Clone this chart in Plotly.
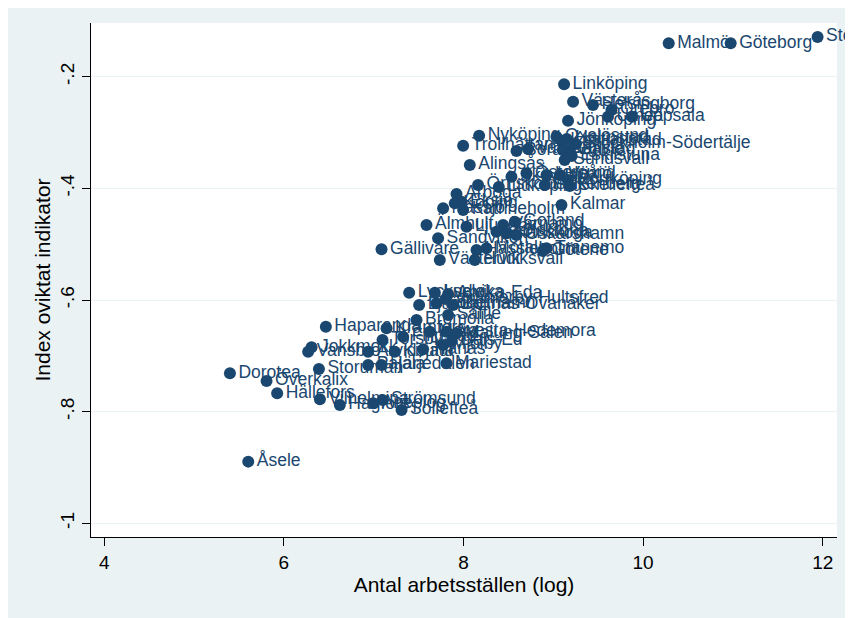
import plotly.graph_objects as go

# Data
names = [
    "Stockholm", "Göteborg", "Malmö", "Linköping", "Västerås", "Helsingborg",
    "Örebro", "Umeå", "Uppsala", "Jönköping", "Nyköping", "Trollhättan",
    "Oxelösund", "Borås", "Varberg", "Kristianstad", "Stockholm-Södertälje",
    "Gävle", "Karlstad", "Eskilstuna", "Halmstad", "Sundsvall", "Alingsås",
    "Skövde", "Östersund", "Luleå", "Växjö", "Norrköping", "Örnsköldsvik",
    "Lidköping", "Falkenberg", "Skellefteå", "Arboga", "Köping", "Eksjö",
    "Nässjö", "Katrineholm", "Kalmar", "Älmhult", "Ljungby", "Värnamo",
    "Gotland", "Karlskrona", "Karlskoga", "Oskarshamn", "Sandviken",
    "Gällivare", "Hässleholm", "Motala", "Tranemo", "Götene", "Västervik",
    "Hudiksvall", "Lycksele", "Ludvika", "Arvika-Eda", "Ljusdal", "Söderhamn",
    "Bollnäs-Ovanåker", "Vimmerby-Hultsfred", "Säffle", "Bromölla",
    "Haparanda", "Kramfors", "Filipstad", "Torsby", "Avesta-Hedemora", "Mora",
    "Malung-Sälen", "Mjölby", "Dals-Ed", "Tranås", "Kiruna", "Arvidsjaur",
    "Jokkmokk", "Vansbro", "Pajala", "Härjedalen", "Mariestad", "Storuman",
    "Dorotea", "Överkalix", "Hällefors", "Vilhelmina", "Hagfors", "Arjeplog",
    "Strömsund", "Sollefteå", "Åsele",
]

log_workplaces = [
    11.943, 10.975, 10.285, 9.120, 9.220, 9.442,
    9.647, 9.609, 9.876, 9.164, 8.174, 7.996,
    9.035, 8.590, 8.719, 9.094, 9.250,
    9.183, 9.105, 9.205, 9.150, 9.127, 8.070,
    8.534, 8.701, 8.924, 9.072, 9.161, 8.162,
    8.393, 8.905, 9.183, 7.922, 7.903, 7.978,
    7.773, 7.996, 9.091, 7.588, 8.033, 8.441,
    8.571, 8.367, 8.479, 8.590, 7.717,
    7.087, 8.145, 8.256, 8.924, 8.883, 7.736,
    8.126, 7.395, 7.681, 7.829, 7.506, 7.699,
    7.884, 7.803, 7.829, 7.477,
    6.467, 7.143, 7.328, 7.098, 7.811, 7.625,
    7.922, 7.773, 7.870, 7.550, 7.235, 6.938,
    6.308, 6.270, 6.938, 7.087, 7.811, 6.390,
    5.399, 5.807, 5.925, 6.401, 6.623, 6.994,
    7.098, 7.310, 5.603,
]

index_unweighted = [
    -0.129, -0.140, -0.140, -0.2136, -0.2448, -0.2507,
    -0.2596, -0.2716, -0.2716, -0.2788, -0.3057, -0.3236,
    -0.3075, -0.3331, -0.3295, -0.3152, -0.3205,
    -0.3313, -0.3313, -0.3420, -0.3116, -0.3492, -0.3581,
    -0.3791, -0.3730, -0.3760, -0.3760, -0.3850, -0.3940,
    -0.3975, -0.3940, -0.3958, -0.4100, -0.4267, -0.4239,
    -0.4357, -0.4387, -0.4298, -0.4656, -0.4687, -0.4656,
    -0.4597, -0.4776, -0.4805, -0.4835, -0.4894,
    -0.5091, -0.5104, -0.5073, -0.5073, -0.5122, -0.5283,
    -0.5283, -0.5869, -0.5869, -0.5892, -0.6089, -0.6058,
    -0.6089, -0.5981, -0.6268, -0.6358,
    -0.6478, -0.6506, -0.6657, -0.6716, -0.6567, -0.6567,
    -0.6596, -0.6805, -0.6734, -0.6882, -0.6925, -0.6925,
    -0.6846, -0.6925, -0.7163, -0.7163, -0.7133, -0.7235,
    -0.7312, -0.7450, -0.7670, -0.7778, -0.7880, -0.7850,
    -0.7790, -0.7970, -0.8895,
]

x_ticks = [4, 6, 8, 10, 12]
y_ticks = [-1, -0.8, -0.6, -0.4, -0.2]
y_ticktext = ["-1", "-.8", "-.6", "-.4", "-.2"]

NAVY = "#1A476F"
OUTER = "#EAF2F3"
FONT = "Liberation Sans, Arial, sans-serif"

fig = go.Figure(
    go.Scatter(
        x=log_workplaces,
        y=index_unweighted,
        mode="markers+text",
        text=names,
        textposition="middle right",
        textfont=dict(family=FONT, size=17.5, color=NAVY),
        marker=dict(size=12, color=NAVY, line=dict(width=0)),
        cliponaxis=False,
        hoverinfo="skip",
    )
)

# The page body adds an 8px offset; margins compensate so the plot area
# lands where it is in the reference.
fig.update_layout(
    width=853,
    height=618,
    margin=dict(l=83, r=24, t=15, b=89),
    paper_bgcolor=OUTER,
    plot_bgcolor="white",
    showlegend=False,
    font=dict(family=FONT, color="black"),
)

fig.update_xaxes(
    range=[3.852, 12.159],
    tickvals=x_ticks,
    ticks="outside",
    ticklen=8,
    tickcolor="black",
    tickfont=dict(size=19, color="black"),
    showline=True,
    linecolor="black",
    linewidth=1,
    showgrid=False,
    zeroline=False,
    title=dict(text="Antal arbetsställen (log)", font=dict(size=21, color="black"), standoff=3),
)

fig.update_yaxes(
    range=[-1.0245, -0.1038],
    tickvals=y_ticks,
    ticktext=y_ticktext,
    tickangle=-90,
    ticks="outside",
    ticklen=8,
    tickcolor="black",
    tickfont=dict(size=19, color="black"),
    showline=True,
    linecolor="black",
    linewidth=1,
    showgrid=True,
    gridcolor=OUTER,
    gridwidth=1,
    zeroline=False,
    title=dict(text="Index oviktat indikator", font=dict(size=21, color="black"), standoff=1),
)

fig.write_html("out.html")
